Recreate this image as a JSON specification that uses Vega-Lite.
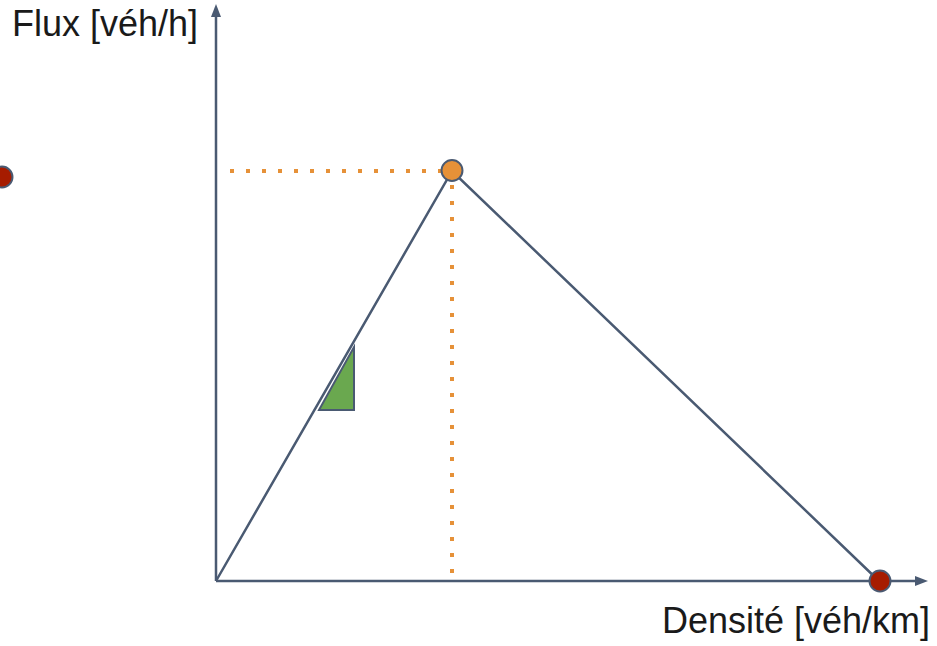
{
  "$schema": "https://vega.github.io/schema/vega-lite/v6.json",
  "width": 937,
  "height": 646,
  "autosize": {"type": "none"},
  "padding": 0,
  "config": {"view": {"stroke": null}},
  "datasets": {
    "axes": [
      {"k": 0, "q": 0, "k2": 700, "q2": 0},
      {"k": 0, "q": 0, "k2": 0, "q2": 565}
    ],
    "arrowY": [{"k": 0, "q": 570.5}],
    "arrowX": [{"k": 705.5, "q": 0}],
    "diagram": [
      {"k": 0, "q": 0},
      {"k": 236, "q": 410},
      {"k": 663, "q": 0}
    ],
    "guides": [
      {"k": 14, "q": 410, "k2": 226, "q2": 410},
      {"k": 236, "q": 396, "k2": 236, "q2": 0}
    ],
    "slope": [
      {"k": 103, "q": 171, "q2": 171},
      {"k": 138, "q": 234, "q2": 171}
    ],
    "states": [
      {"k": -214, "q": 404, "etat": "bloqué"},
      {"k": 236, "q": 410.5, "etat": "critique"},
      {"k": 664, "q": 0, "etat": "bloqué"}
    ],
    "labelY": [{"k": -204, "q": 545, "txt": "Flux [véh/h]"}],
    "labelX": [{"k": 714, "q": -52, "txt": "Densité [véh/km]"}]
  },
  "encoding": {
    "x": {"field": "k", "type": "quantitative", "scale": {"domain": [-216, 721], "nice": false, "zero": false}, "axis": null},
    "y": {"field": "q", "type": "quantitative", "scale": {"domain": [-65, 581], "nice": false, "zero": false}, "axis": null}
  },
  "layer": [
    {
      "data": {"name": "axes"},
      "mark": {"type": "rule", "color": "#4a5a72", "strokeWidth": 2.5},
      "encoding": {"x2": {"field": "k2"}, "y2": {"field": "q2"}}
    },
    {
      "data": {"name": "arrowY"},
      "mark": {"type": "point", "filled": true, "color": "#4a5a72", "opacity": 1, "size": 169, "shape": "M0,-1L0.77,1L-0.77,1Z", "strokeWidth": 0}
    },
    {
      "data": {"name": "arrowX"},
      "mark": {"type": "point", "filled": true, "color": "#4a5a72", "opacity": 1, "size": 169, "shape": "M1,0L-1,-0.77L-1,0.77Z", "strokeWidth": 0}
    },
    {
      "data": {"name": "guides"},
      "mark": {"type": "rule", "color": "#e69138", "strokeWidth": 4, "strokeDash": [4, 12], "strokeCap": "butt"},
      "encoding": {"x2": {"field": "k2"}, "y2": {"field": "q2"}}
    },
    {
      "data": {"name": "diagram"},
      "mark": {"type": "line", "color": "#4a5a72", "strokeWidth": 2.5}
    },
    {
      "data": {"name": "slope"},
      "mark": {"type": "area", "fill": "#6aa84f", "fillOpacity": 1, "stroke": "#4a5a72", "strokeWidth": 2},
      "encoding": {"y2": {"field": "q2"}}
    },
    {
      "data": {"name": "states"},
      "mark": {"type": "point", "filled": true, "opacity": 1, "size": 440, "stroke": "#4a5a72", "strokeWidth": 2, "shape": "circle"},
      "encoding": {
        "fill": {"field": "etat", "type": "nominal", "scale": {"domain": ["critique", "bloqué"], "range": ["#e69138", "#a61c00"]}, "legend": null}
      }
    },
    {
      "data": {"name": "labelY"},
      "mark": {"type": "text", "font": "Liberation Sans", "fontSize": 36, "color": "#1a1a1a", "baseline": "alphabetic", "align": "left"},
      "encoding": {"text": {"field": "txt"}}
    },
    {
      "data": {"name": "labelX"},
      "mark": {"type": "text", "font": "Liberation Sans", "fontSize": 36, "color": "#1a1a1a", "baseline": "alphabetic", "align": "right"},
      "encoding": {"text": {"field": "txt"}}
    }
  ]
}
